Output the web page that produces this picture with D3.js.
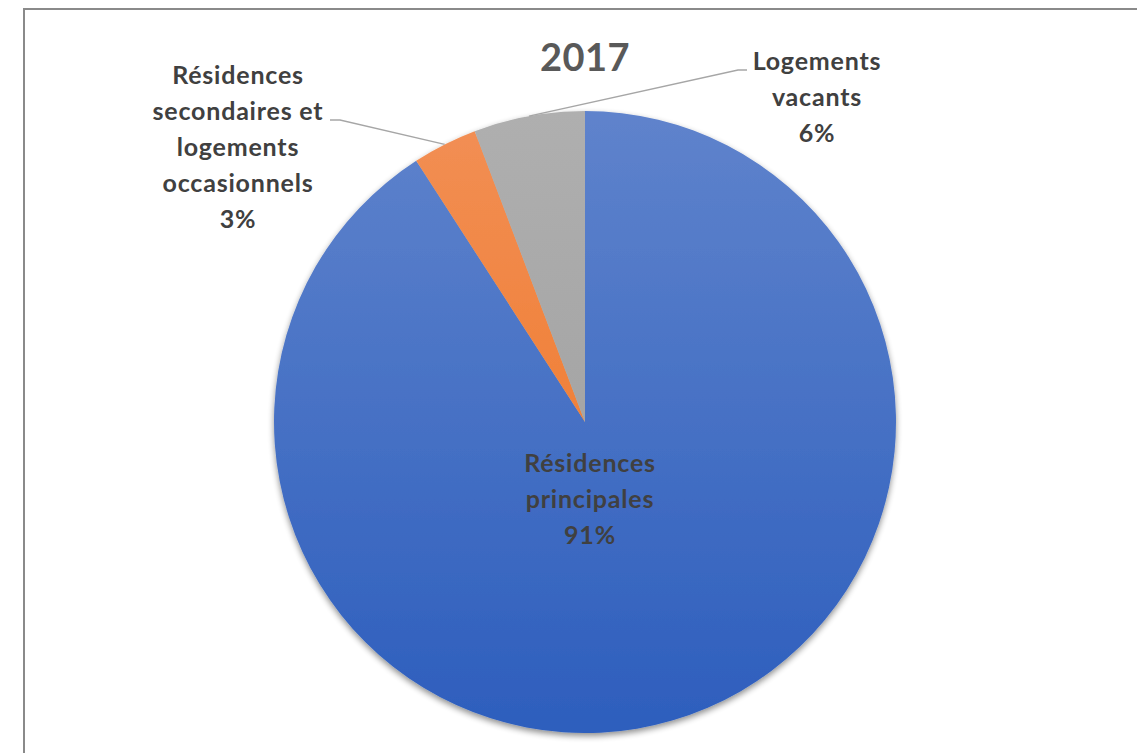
<!DOCTYPE html>
<html>
<head>
<meta charset="utf-8">
<script src="https://cdn.jsdelivr.net/npm/d3@7"></script>
<style>
  body { margin: 0; background: #fff; }
  text { font-family: Lato, "Open Sans", sans-serif; font-weight: bold; }
</style>
</head>
<body>
<div id="chart"></div>
<script>
// data
var title = "2017";
var categories = ["Résidences principales", "Résidences secondaires et logements occasionnels", "Logements vacants"];
var values = [90.87, 3.36, 5.77];
var labelLines = [
  ["Résidences", "principales", "91%"],
  ["Résidences", "secondaires et", "logements", "occasionnels", "3%"],
  ["Logements", "vacants", "6%"]
];

var config = {
  width: 1137,
  height: 753,
  cx: 585,
  cy: 422,
  radius: 311,
  lineHeight: 36
};

// per slice: fill gradient stops and where its label sits
var styles = [
  { top: "#5f83cc", bottom: "#2d5ebd", label: { x: 590, y: 472 }, leader: null },
  { top: "#f28f55", bottom: "#ee721d", label: { x: 238, y: 84 }, leader: { x: 330, y: 120, elbow: 340 } },
  { top: "#afafaf", bottom: "#9b9b9b", label: { x: 817, y: 70 }, leader: { x: 747, y: 70, elbow: 738 } }
];

var svg = d3.select("#chart").append("svg")
    .attr("width", config.width)
    .attr("height", config.height);

var defs = svg.append("defs");

styles.forEach(function(s, i) {
  var g = defs.append("linearGradient")
      .attr("id", "grad" + i)
      .attr("gradientUnits", "userSpaceOnUse")
      .attr("x1", 0).attr("y1", -config.radius)
      .attr("x2", 0).attr("y2", config.radius);
  g.append("stop").attr("offset", "0%").attr("stop-color", s.top);
  g.append("stop").attr("offset", "100%").attr("stop-color", s.bottom);
});

var shadow = defs.append("filter").attr("id", "shadow")
    .attr("x", "-10%").attr("y", "-10%").attr("width", "120%").attr("height", "120%");
shadow.append("feGaussianBlur").attr("in", "SourceAlpha").attr("stdDeviation", 3);
shadow.append("feOffset").attr("dx", 0).attr("dy", 3).attr("result", "off");
shadow.append("feComponentTransfer").append("feFuncA").attr("type", "linear").attr("slope", 0.45);
var merge = shadow.append("feMerge");
merge.append("feMergeNode");
merge.append("feMergeNode").attr("in", "SourceGraphic");

// chart frame
svg.append("rect")
    .attr("x", 24).attr("y", 9)
    .attr("width", config.width)
    .attr("height", config.height)
    .attr("fill", "none")
    .attr("stroke", "#8a8a8a")
    .attr("stroke-width", 2);

svg.append("text")
    .attr("x", config.cx)
    .attr("y", 71)
    .attr("text-anchor", "middle")
    .attr("font-size", 38)
    .attr("letter-spacing", 0.5)
    .attr("fill", "#595959")
    .text(title);

var pie = d3.pie().sort(null).value(function(d) { return d; });
var arcs = pie(values);

var arc = d3.arc().innerRadius(0).outerRadius(config.radius);

var chart = svg.append("g")
    .attr("transform", "translate(" + config.cx + "," + config.cy + ")");

chart.append("g")
    .attr("filter", "url(#shadow)")
  .selectAll("path")
    .data(arcs)
  .enter().append("path")
    .attr("d", arc)
    .attr("fill", function(d, i) { return "url(#grad" + i + ")"; });

// leader lines from the arc edge at mid-angle
arcs.forEach(function(d, i) {
  var ld = styles[i].leader;
  if (!ld) { return; }
  var mid = (d.startAngle + d.endAngle) / 2;
  var px = config.cx + config.radius * Math.sin(mid),
      py = config.cy - config.radius * Math.cos(mid);
  svg.append("polyline")
      .attr("points", [[px, py], [ld.elbow, ld.y], [ld.x, ld.y]].map(function(p) { return p.join(","); }).join(" "))
      .attr("fill", "none")
      .attr("stroke", "#a6a6a6")
      .attr("stroke-width", 1.3);
});

arcs.forEach(function(d, i) {
  var pos = styles[i].label;
  var t = svg.append("text")
      .attr("text-anchor", "middle")
      .attr("font-size", 25)
      .attr("letter-spacing", 0.8)
      .attr("fill", "#404040");
  labelLines[i].forEach(function(line, j) {
    t.append("tspan")
        .attr("x", pos.x)
        .attr("y", pos.y + j * config.lineHeight)
        .text(line);
  });
});
</script>
</body>
</html>
